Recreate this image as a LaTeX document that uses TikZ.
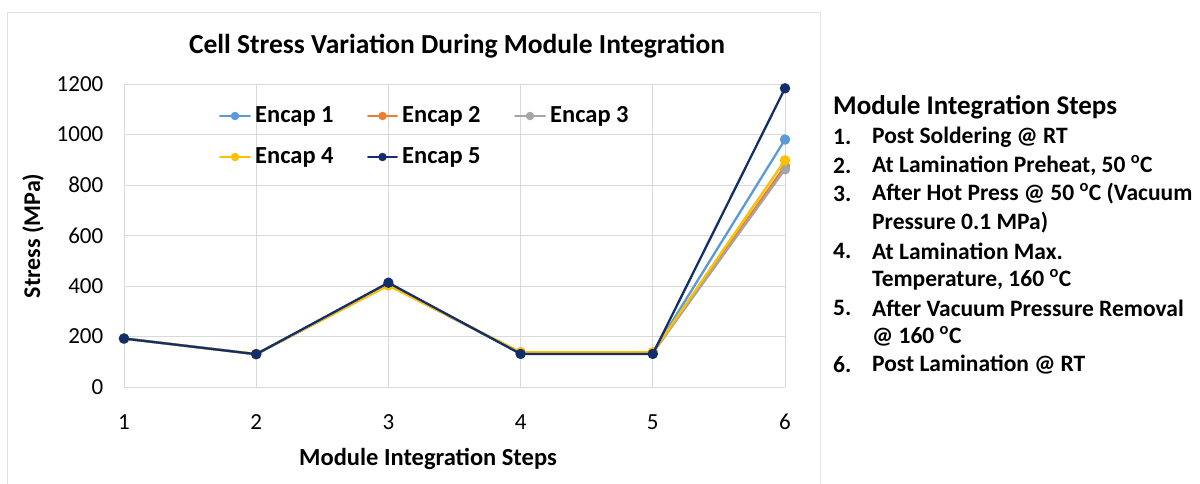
\documentclass[tikz,border=0pt]{standalone}
\usepackage{fontspec}
\usetikzlibrary{calc}
\setmainfont{Carlito}
\definecolor{encA}{HTML}{5B9BD5}
\definecolor{encB}{HTML}{ED7D31}
\definecolor{encC}{HTML}{A5A5A5}
\definecolor{encD}{HTML}{FFC000}
\definecolor{encE}{HTML}{132F6B}
\definecolor{gridgray}{HTML}{D9D9D9}
\definecolor{framegray}{HTML}{E3E3E3}
\begin{document}
\begin{tikzpicture}[x=1pt,y=-1pt,
  series/.style={line width=2.3pt, line join=round, line cap=round},
  dot/.style={circle, inner sep=0pt, minimum size=8.5pt},
  gridline/.style={gridgray, line width=1pt},
  ticklabel/.style={inner sep=0pt, font=\fontsize{23}{27}\selectfont},
  legendtext/.style={anchor=west, inner sep=0pt, font=\bfseries\fontsize{24.5}{29}\selectfont},
  steptext/.style={anchor=west, inner sep=0pt, font=\bfseries\fontsize{23.5}{28}\selectfont},
]
\useasboundingbox (0,0) rectangle (1200,483);
\fill[white] (0,0) rectangle (1200,483);

% chart frame
\draw[framegray, line width=1pt] (7,490) -- (7,12) -- (820,12) -- (820,490);

% title and axis titles
\node[font=\bfseries\fontsize{27.5}{32}\selectfont, inner sep=0pt] (title) at (457,46) {Cell Stress Variation During Module Integration};
\node[font=\bfseries\fontsize{24}{28}\selectfont, inner sep=0pt, rotate=90] (ytitle) at (33,236) {Stress (MPa)};
\node[font=\bfseries\fontsize{24.5}{29}\selectfont, inner sep=0pt] (xtitle) at (428,459) {Module Integration Steps};

% plot area: steps along x, stress (MPa) along y
\begin{scope}[shift={(124,387)}, x=132.2pt, y=0.2525pt]
  \foreach \v in {200,400,...,1200} \draw[gridline] (0,\v) -- (5,\v);
  \foreach \s in {0,...,5} \draw[gridline] (\s,0) -- (\s,1200);
  \draw[gridline] (0,0) -- (5,0);
  \foreach \v in {0,200,...,1200} \node[ticklabel, anchor=east] at (-0.155,\v) {\v};
  \foreach \s in {1,...,6} \node[ticklabel] at (\s-1,-138) {\s};

  \draw[series, encA, mark=*, mark size=4pt, mark options={fill=encA, draw=encA}]
    plot coordinates {(0,192) (1,130) (2,405) (3,135) (4,135) (5,980)};
  \draw[series, encB, mark=*, mark size=4pt, mark options={fill=encB, draw=encB}]
    plot coordinates {(0,192) (1,130) (2,405) (3,135) (4,135) (5,875)};
  \draw[series, encC, mark=*, mark size=4pt, mark options={fill=encC, draw=encC}]
    plot coordinates {(0,192) (1,130) (2,404) (3,135) (4,135) (5,862)};
  \draw[series, encD, mark=*, mark size=4pt, mark options={fill=encD, draw=encD}]
    plot coordinates {(0,192) (1,131) (2,402) (3,138) (4,138) (5,898)};
  \draw[series, encE, mark=*, mark size=4pt, mark options={fill=encE, draw=encE}]
    plot coordinates {(0,192) (1,130) (2,413) (3,131) (4,131) (5,1183)};
\end{scope}

% legend
\coordinate (la1) at (220,116); \coordinate (lb1) at (250,116);
\coordinate (la2) at (368,116); \coordinate (lb2) at (397,116);
\coordinate (la3) at (515,116); \coordinate (lb3) at (545,116);
\coordinate (la4) at (220,157); \coordinate (lb4) at (250,157);
\coordinate (la5) at (368,157); \coordinate (lb5) at (397,157);
\draw[series, encA, line width=2pt] (la1) -- (lb1); \node[dot, fill=encA] (m1) at ($ (la1)!0.5!(lb1) $) {};
\draw[series, encB, line width=2pt] (la2) -- (lb2); \node[dot, fill=encB] (m2) at ($ (la2)!0.5!(lb2) $) {};
\draw[series, encC, line width=2pt] (la3) -- (lb3); \node[dot, fill=encC] (m3) at ($ (la3)!0.5!(lb3) $) {};
\draw[series, encD, line width=2pt] (la4) -- (lb4); \node[dot, fill=encD] (m4) at ($ (la4)!0.5!(lb4) $) {};
\draw[series, encE, line width=2pt] (la5) -- (lb5); \node[dot, fill=encE] (m5) at ($ (la5)!0.5!(lb5) $) {};
\node[legendtext] (t1) at (255,116) {Encap 1};
\node[legendtext] (t2) at (402,116) {Encap 2};
\node[legendtext] (t3) at (550,116) {Encap 3};
\node[legendtext] (t4) at (255,157) {Encap 4};
\node[legendtext] (t5) at (402,157) {Encap 5};

% list of integration steps
\node[anchor=west, inner sep=0pt, font=\bfseries\fontsize{27}{32}\selectfont] (head) at (833,107) {Module Integration Steps};
\node[steptext] (n1) at (833,137) {1.};
\node[steptext] (s1) at (872,137) {Post Soldering @ RT};
\node[steptext] (n2) at (833,165.5) {2.};
\node[steptext] (s2) at (872,165.5) {At Lamination Preheat, 50 \textsuperscript{o}C};
\node[steptext] (n3) at (833,194) {3.};
\node[steptext] (s3) at (872,194) {After Hot Press @ 50 \textsuperscript{o}C (Vacuum};
\node[steptext] (s3b) at (872,222.5) {Pressure 0.1 MPa)};
\node[steptext] (n4) at (833,251) {4.};
\node[steptext] (s4) at (872,251) {At Lamination Max.};
\node[steptext] (s4b) at (872,279.5) {Temperature, 160 \textsuperscript{o}C};
\node[steptext] (n5) at (833,308) {5.};
\node[steptext] (s5) at (872,308) {After Vacuum Pressure Removal};
\node[steptext] (s5b) at (872,336.5) {@ 160 \textsuperscript{o}C};
\node[steptext] (n6) at (833,365) {6.};
\node[steptext] (s6) at (872,365) {Post Lamination @ RT};
\end{tikzpicture}
\end{document}
